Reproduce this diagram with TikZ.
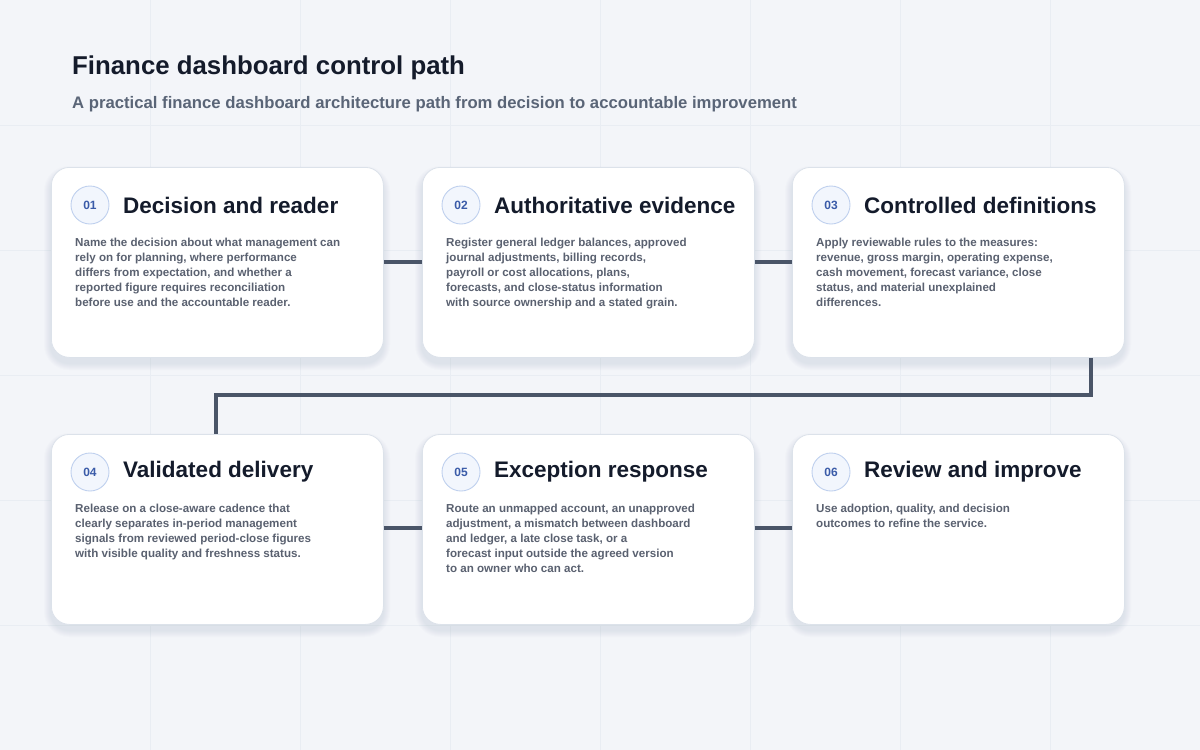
\documentclass[tikz,border=0pt]{standalone}
\usepackage{fontspec}
\setmainfont{Liberation Sans}
\definecolor{bg}{HTML}{F3F5F9}
\definecolor{gridc}{HTML}{E9EDF3}
\definecolor{ink}{HTML}{141B2B}
\definecolor{sub}{HTML}{5A6577}
\definecolor{body}{HTML}{5A6170}
\definecolor{wire}{HTML}{4A5568}
\definecolor{cbord}{HTML}{DCE2EA}
\definecolor{numc}{HTML}{3A5BA8}
\definecolor{circf}{HTML}{F2F6FD}
\definecolor{circb}{HTML}{BFD0EE}
\definecolor{shad}{HTML}{8A96AD}
\tikzset{
 card/.style={draw=cbord,line width=0.8pt,fill=white,rounded corners=18pt,minimum width=332pt,minimum height=190pt,anchor=north west},
 num/.style={circle,draw=circb,line width=0.9pt,fill=circf,minimum size=38pt,inner sep=0pt,text=numc,font=\bfseries\fontsize{12}{12}\selectfont},
 ttl/.style={anchor=west,inner sep=0pt,text=ink,font=\bfseries\fontsize{22.5}{24}\selectfont},
 txt/.style={anchor=north west,inner sep=0pt,align=left,text=body,font=\bfseries\fontsize{11.6}{15}\selectfont},
 wirel/.style={draw=wire,line width=3.5pt}
}
\newcommand{\cardshadow}[2]{%
 \foreach \s in {1,...,7}{\fill[shad,opacity=0.022,rounded corners=18pt+\s pt] (#1-\s,#2-\s+6) rectangle (#1+332+\s,#2+190+\s+6);}}
\begin{document}
\begin{tikzpicture}[x=1pt,y=-1pt]
\fill[bg] (0,0) rectangle (1200,750);
\useasboundingbox (0,0) rectangle (1200,750);
\foreach \x in {150,300,...,1050} \draw[gridc,line width=0.6pt] (\x,0) -- (\x,750);
\foreach \y in {125,250,...,625} \draw[gridc,line width=0.6pt] (0,\y) -- (1200,\y);
\node[anchor=west,inner sep=0pt,text=ink,font=\bfseries\fontsize{25.8}{28}\selectfont] (title) at (72,68) {Finance dashboard control path};
\node[anchor=west,inner sep=0pt,text=sub,font=\bfseries\fontsize{16.7}{20}\selectfont] (subtitle) at (72,104) {A practical finance dashboard architecture path from decision to accountable improvement};
\coordinate (w1) at (1091,395); \coordinate (w2) at (216,395);
\foreach \x/\y in {51/167,422/167,792/167,51/434,422/434,792/434}{\cardshadow{\x}{\y}}
\node[card] (c1) at (51,167) {};
\node[card] (c2) at (422,167) {};
\node[card] (c3) at (792,167) {};
\node[card] (c4) at (51,434) {};
\node[card] (c5) at (422,434) {};
\node[card] (c6) at (792,434) {};
\draw[wirel] (c1.east |- 0,262) -- (c2.west |- 0,262);
\draw[wirel] (c2.east |- 0,262) -- (c3.west |- 0,262);
\draw[wirel] (c3.south -| w1) -- (w1) -- (w2) -- (c4.north -| w2);
\draw[wirel] (c4.east |- 0,528) -- (c5.west |- 0,528);
\draw[wirel] (c5.east |- 0,528) -- (c6.west |- 0,528);
\foreach \n/\x/\y/\t in {01/51/167/Decision and reader,02/422/167/Authoritative evidence,03/792/167/Controlled definitions,04/51/434/Validated delivery,05/422/434/Exception response,06/792/434/Review and improve}{
 \node[num] (n\n) at (\x+39,\y+38) {\n};
 \node[ttl] (t\n) at (\x+72,\y+38) {\t};
}
\node[txt] (b1) at (75,238) {Name the decision about what management can\\rely on for planning, where performance\\differs from expectation, and whether a\\reported figure requires reconciliation\\before use and the accountable reader.};
\node[txt] (b2) at (446,238) {Register general ledger balances, approved\\journal adjustments, billing records,\\payroll or cost allocations, plans,\\forecasts, and close-status information\\with source ownership and a stated grain.};
\node[txt] (b3) at (816,238) {Apply reviewable rules to the measures:\\revenue, gross margin, operating expense,\\cash movement, forecast variance, close\\status, and material unexplained\\differences.};
\node[txt] (b4) at (75,504) {Release on a close-aware cadence that\\clearly separates in-period management\\signals from reviewed period-close figures\\with visible quality and freshness status.};
\node[txt] (b5) at (446,504) {Route an unmapped account, an unapproved\\adjustment, a mismatch between dashboard\\and ledger, a late close task, or a\\forecast input outside the agreed version\\to an owner who can act.};
\node[txt] (b6) at (816,504) {Use adoption, quality, and decision\\outcomes to refine the service.};
\end{tikzpicture}
\end{document}
